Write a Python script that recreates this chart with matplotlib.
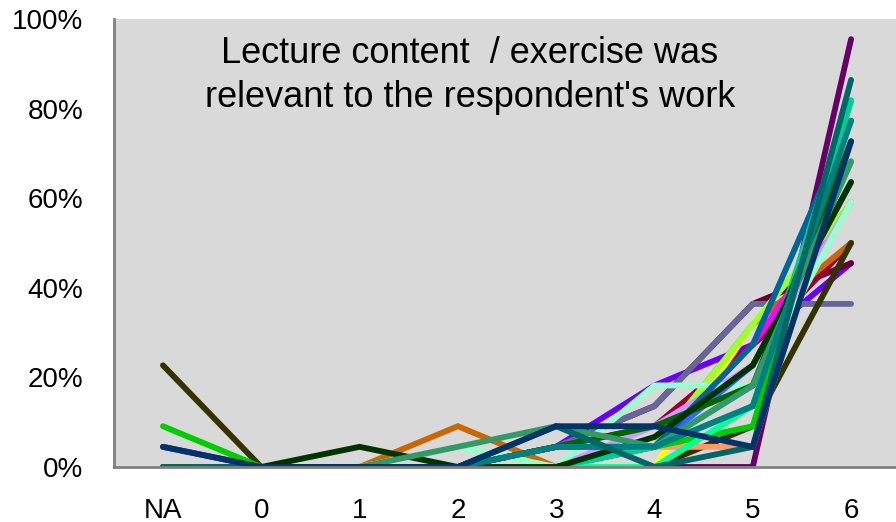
import matplotlib.pyplot as plt
from matplotlib.ticker import FuncFormatter

categories = ["NA", "0", "1", "2", "3", "4", "5", "6"]

# share of respondents (%) per rating, one list per lecture / exercise
s_purple = [0, 0, 0, 0, 0, 0, 0, 95.5]
s_violet = [4.5, 0, 0, 0, 4.5, 18.2, 27.3, 45.5]
s_maroon = [0, 0, 0, 0, 4.5, 13.6, 36.4, 45.5]
s_graypurple = [0, 0, 0, 0, 4.5, 13.6, 36.4, 36.4]
s_crimson = [0, 0, 0, 0, 4.5, 9.1, 27.3, 50.0]
s_orange = [0, 0, 0, 9.1, 0, 4.5, 31.8, 50.0]
s_olive = [22.7, 0, 0, 0, 0, 0, 9.1, 50.0]
s_magenta = [0, 0, 0, 0, 0, 4.5, 27.3, 59.1]
s_yellow = [0, 0, 0, 0, 0, 0, 31.8, 59.1]
s_yellowgreen = [0, 0, 0, 0, 0, 4.5, 31.8, 59.1]
s_lavender = [0, 0, 0, 0, 0, 9.1, 22.7, 59.1]
s_lightaqua = [0, 0, 0, 4.5, 0, 18.2, 18.2, 59.1]
s_blue = [0, 0, 0, 0, 0, 4.5, 22.7, 63.6]
s_skyblue = [0, 0, 0, 0, 0, 4.5, 18.2, 68.2]
s_salmon = [0, 0, 0, 0, 0, 4.5, 4.5, 72.7]
s_steelblue = [0, 0, 0, 0, 4.5, 4.5, 27.3, 77.3]
s_green = [9.1, 0, 0, 0, 0, 4.5, 9.1, 81.8]
s_springgreen = [0, 0, 0, 0, 0, 0, 13.6, 81.8]
s_aqua = [0, 0, 0, 0, 0, 4.5, 13.6, 81.8]
s_midgreen = [0, 0, 0, 0, 4.5, 9.1, 18.2, 72.7]
s_darkgreen = [0, 0, 4.5, 0, 0, 6.7, 22.7, 63.6]
s_seagreen = [0, 0, 0, 4.5, 9.1, 4.5, 18.2, 68.2]
s_teal = [0, 0, 0, 0, 4.5, 4.5, 13.6, 77.3]
s_darkteal = [0, 0, 0, 0, 9.1, 0, 4.5, 86.4]
s_navy = [4.5, 0, 0, 0, 9.1, 9.1, 4.5, 72.7]

series = [
    (s_purple, "#660066"),
    (s_violet, "#6600FF"),
    (s_maroon, "#660033"),
    (s_graypurple, "#666699"),
    (s_crimson, "#990033"),
    (s_orange, "#CC6600"),
    (s_olive, "#333300"),
    (s_magenta, "#FF00FF"),
    (s_yellow, "#FFFF00"),
    (s_yellowgreen, "#99FF33"),
    (s_lavender, "#CC99FF"),
    (s_lightaqua, "#99FFCC"),
    (s_blue, "#3366FF"),
    (s_skyblue, "#0099FF"),
    (s_salmon, "#FF9966"),
    (s_steelblue, "#006699"),
    (s_green, "#00CC00"),
    (s_springgreen, "#00FF99"),
    (s_aqua, "#00CC99"),
    (s_midgreen, "#006600"),
    (s_darkgreen, "#003300"),
    (s_seagreen, "#339966"),
    (s_teal, "#008080"),
    (s_darkteal, "#006666"),
    (s_navy, "#003366"),
]

plt.rcParams["font.family"] = ["Liberation Sans", "DejaVu Sans"]

fig = plt.figure(figsize=(8.96, 5.22), dpi=100)
ax = fig.add_axes([0.127, 0.1054, 0.873, 0.8582])
ax.set_facecolor("#D9D9D9")

x = list(range(len(categories)))
for values, color in series:
    ax.plot(x, values, color=color, linewidth=4.2,
            solid_capstyle="round", solid_joinstyle="miter")

ax.set_xlim(-0.5, 7.457)
ax.set_ylim(0, 100)
ax.set_yticks([0, 20, 40, 60, 80, 100])
ax.yaxis.set_major_formatter(FuncFormatter(lambda v, p: f"{v:.0f}%"))
ax.set_xticks(x)
ax.set_xticklabels(categories)
ax.tick_params(axis="y", length=0, pad=22, labelsize=20)
ax.tick_params(axis="x", length=0, pad=22, labelsize=20)

for side in ["top", "right"]:
    ax.spines[side].set_visible(False)
for side in ["left", "bottom"]:
    ax.spines[side].set_color("#808080")
    ax.spines[side].set_linewidth(2)

ax.text(0.455, 0.873, "Lecture content  / exercise was\nrelevant to the respondent's work",
        transform=ax.transAxes, ha="center", va="center", fontsize=26,
        linespacing=1.33)

fig.savefig("out.png", dpi=100)
